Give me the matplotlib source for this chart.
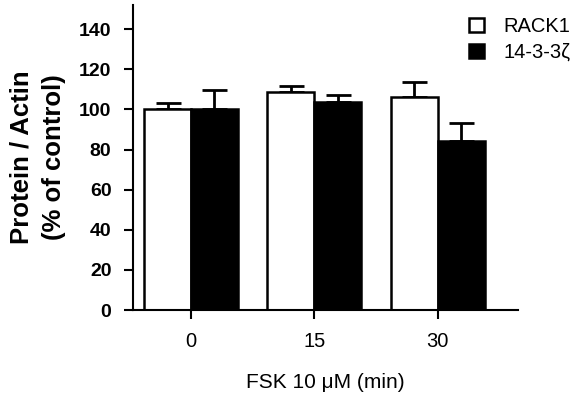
import numpy as np
import matplotlib
matplotlib.use("Agg")
import matplotlib.pyplot as plt

plt.rcParams["font.family"] = ["Liberation Sans", "DejaVu Sans"]

# Data
time_labels = ["0", "15", "30"]
rack1_mean = [100.0, 108.8, 106.2]
rack1_err = [3.3, 2.8, 7.4]
ywhaz_mean = [100.0, 103.6, 84.2]
ywhaz_err = [9.8, 3.6, 9.0]

x = np.arange(len(time_labels))
width = 0.38

fig = plt.figure(figsize=(5.77, 3.97), dpi=100)
ax = fig.add_axes([0.2305, 0.219, 0.667, 0.768])

ax.bar(x - width / 2, rack1_mean, width, color="white", edgecolor="black",
       linewidth=1.8, label="RACK1", zorder=2)
ax.bar(x + width / 2, ywhaz_mean, width, color="black", edgecolor="black",
       linewidth=1.8, label="14-3-3ζ", zorder=2)

# upper error bars only
ax.errorbar(x - width / 2, rack1_mean, yerr=[np.zeros(3), rack1_err], fmt="none",
            ecolor="black", elinewidth=2, capsize=9, capthick=2, zorder=1)
ax.errorbar(x + width / 2, ywhaz_mean, yerr=[np.zeros(3), ywhaz_err], fmt="none",
            ecolor="black", elinewidth=2, capsize=9, capthick=2, zorder=1)

ax.set_xlim(-0.47, 2.65)
ax.set_ylim(0, 152)
ax.set_yticks(np.arange(0, 141, 20))
ax.set_xticks(x)
ax.set_xticklabels(time_labels, fontsize=14.5)
for lbl in ax.get_yticklabels():
    lbl.set_fontweight("bold")
    lbl.set_fontsize(14)

ax.spines["top"].set_visible(False)
ax.spines["right"].set_visible(False)
ax.spines["left"].set_linewidth(1.5)
ax.spines["bottom"].set_linewidth(1.5)
ax.tick_params(axis="both", width=1.5, length=6.5, direction="out", pad=9)

ax.set_ylabel("Protein / Actin\n(% of control)", fontsize=18.5, fontweight="bold",
              linespacing=1.45, labelpad=9)
ax.set_xlabel("FSK 10 μM (min)", fontsize=15, labelpad=16)

ax.legend(loc="upper left", bbox_to_anchor=(469 / 577, 1 - 17 / 397),
          bbox_transform=fig.transFigure, frameon=False, fontsize=14.5,
          borderpad=0, borderaxespad=0,
          handlelength=0.75, handleheight=0.75, handletextpad=0.95, labelspacing=0.35)

fig.savefig("out.png", dpi=100)
